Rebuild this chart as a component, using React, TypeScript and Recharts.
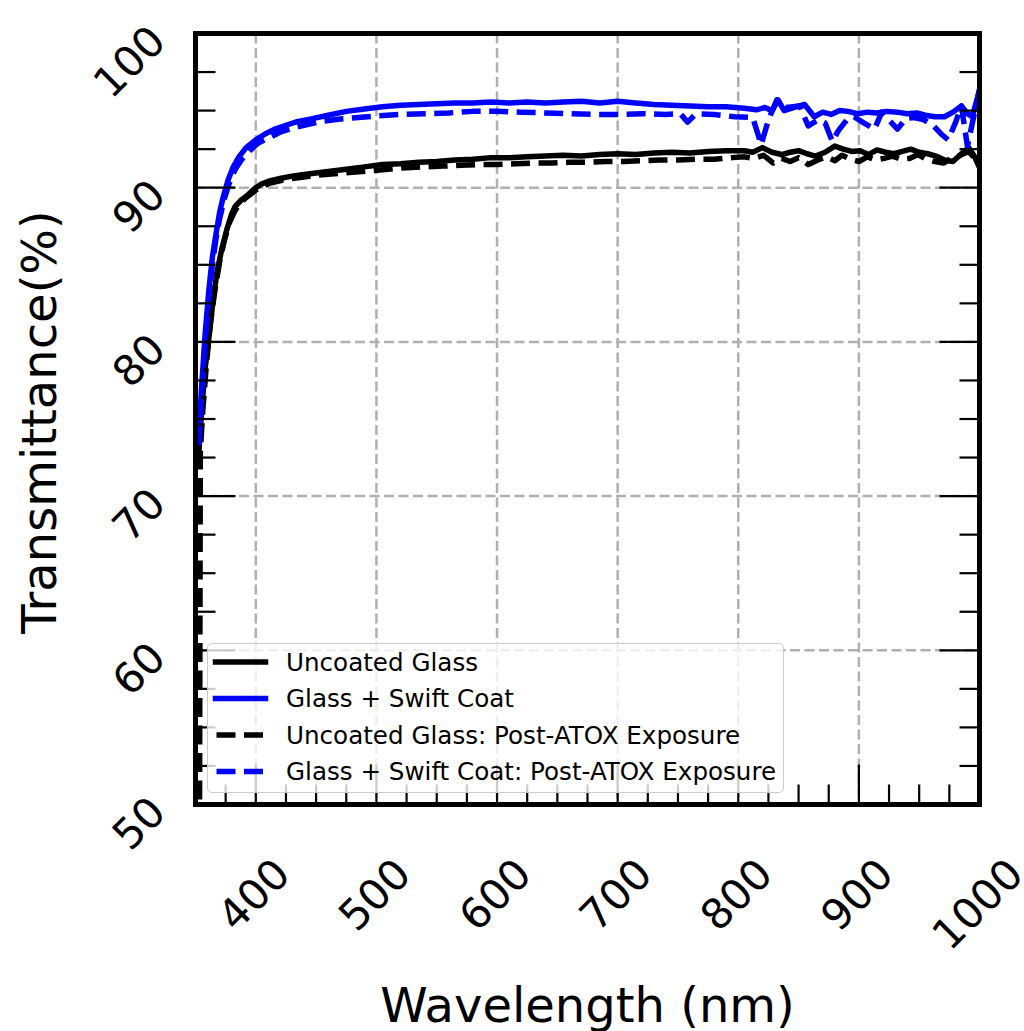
import React from 'react';
import { LineChart, Line, XAxis, YAxis, CartesianGrid, Legend, Label } from 'recharts';

// ---------- data (wavelength nm, transmittance %) ----------
const uncoatedGlass: [number, number][] = [
  [352.5, 72.5], [355, 75.5], [358, 78.3], [361, 80.2], [365, 83.0], [368, 84.6], [372, 86.1], [376, 87.3],
  [380, 88.3], [383, 88.8], [388, 89.2], [393, 89.5], [397, 89.8], [400, 90.0], [405, 90.25], [410, 90.4],
  [420, 90.6], [430, 90.75], [440, 90.85], [450, 90.95], [460, 91.05], [475, 91.2], [490, 91.35], [505, 91.5],
  [520, 91.55], [535, 91.65], [550, 91.7], [565, 91.8], [580, 91.85], [595, 91.95], [610, 91.95], [625, 92.0],
  [640, 92.05], [655, 92.1], [670, 92.05], [685, 92.15], [700, 92.2], [715, 92.15], [730, 92.25], [745, 92.3],
  [760, 92.25], [775, 92.35], [790, 92.4], [805, 92.4], [812, 92.3], [820, 92.6], [828, 92.3], [836, 92.15],
  [843, 92.3], [850, 92.4], [857, 92.2], [864, 92.05], [872, 92.3], [880, 92.7], [887, 92.5], [894, 92.35],
  [901, 92.4], [908, 92.15], [915, 92.45], [922, 92.3], [929, 92.2], [936, 92.35], [943, 92.5], [950, 92.3],
  [957, 92.2], [964, 92.05], [971, 91.8], [978, 91.7], [985, 92.2], [991, 92.6], [996, 92.0], [1000, 91.3],
];

const swiftCoat: [number, number][] = [
  [352.5, 73.5], [355, 77.0], [358, 80.5], [361, 83.3], [364, 85.5], [367, 87.0], [370, 88.4], [373, 89.4],
  [377, 90.5], [381, 91.3], [386, 92.0], [392, 92.6], [400, 93.1], [408, 93.5], [416, 93.8], [425, 94.05],
  [435, 94.3], [445, 94.45], [460, 94.7], [475, 94.95], [490, 95.1], [505, 95.25], [520, 95.35], [535, 95.4],
  [550, 95.45], [565, 95.5], [580, 95.5], [595, 95.55], [610, 95.5], [625, 95.55], [640, 95.5], [655, 95.55],
  [670, 95.6], [685, 95.5], [700, 95.6], [715, 95.5], [730, 95.4], [745, 95.35], [760, 95.3], [775, 95.25],
  [790, 95.25], [805, 95.15], [815, 95.05], [822, 95.2], [828, 95.0], [833, 95.7], [838, 95.0], [846, 95.2],
  [855, 95.4], [863, 94.6], [870, 94.9], [877, 94.75], [884, 95.0], [891, 94.95], [899, 94.8], [907, 94.9],
  [915, 94.85], [923, 94.95], [932, 94.9], [940, 94.8], [948, 94.85], [955, 94.7], [963, 94.6], [971, 94.6],
  [978, 94.9], [985, 95.3], [990, 94.8], [994, 94.6], [1000, 96.3],
];

const uncoatedPostAtox: [number, number][] = [
  [352.5, 20], [354, 72.8], [356, 75.5], [359, 78.5], [362, 81.0], [366, 83.3], [370, 85.2], [374, 86.6],
  [378, 87.7], [382, 88.4], [386, 88.9], [391, 89.3], [396, 89.6], [400, 89.85], [406, 90.1], [412, 90.3],
  [420, 90.45], [430, 90.6], [440, 90.7], [450, 90.8], [465, 90.9], [480, 91.0], [495, 91.1], [510, 91.2],
  [525, 91.3], [540, 91.35], [555, 91.4], [570, 91.45], [585, 91.5], [600, 91.5], [615, 91.55], [630, 91.6],
  [645, 91.6], [660, 91.65], [675, 91.65], [690, 91.7], [705, 91.7], [720, 91.75], [735, 91.8], [750, 91.8],
  [765, 91.85], [780, 91.85], [795, 91.95], [805, 92.0], [813, 91.9], [821, 92.1], [829, 91.6], [836, 91.9],
  [843, 91.7], [850, 91.95], [858, 91.5], [866, 91.8], [873, 92.0], [880, 91.75], [886, 92.1], [893, 91.85],
  [900, 91.7], [907, 92.0], [914, 91.8], [921, 91.9], [928, 92.05], [935, 91.85], [942, 91.9], [949, 92.15],
  [956, 91.85], [963, 91.7], [970, 91.6], [977, 91.9], [984, 92.1], [991, 92.35], [996, 91.9], [1000, 91.7],
];

const swiftPostAtox: [number, number][] = [
  [352.5, 73.3], [355, 76.5], [358, 80.0], [361, 82.8], [364, 85.0], [367, 86.7], [370, 88.0], [374, 89.3],
  [378, 90.3], [383, 91.2], [388, 91.8], [395, 92.4], [402, 92.9], [410, 93.2], [420, 93.6], [430, 93.85],
  [440, 94.05], [455, 94.3], [470, 94.45], [485, 94.55], [500, 94.65], [520, 94.75], [540, 94.8], [560, 94.85],
  [580, 94.95], [600, 94.95], [620, 94.9], [640, 94.85], [660, 94.8], [680, 94.75], [700, 94.75], [720, 94.8],
  [740, 94.75], [752, 94.8], [758, 94.25], [765, 94.8], [780, 94.75], [797, 94.6], [812, 94.55], [819, 92.8],
  [825, 94.4], [832, 95.7], [840, 95.2], [851, 95.3], [858, 94.0], [866, 94.4], [872, 94.2], [878, 93.0],
  [883, 93.7], [890, 94.4], [896, 94.6], [904, 94.2], [913, 93.8], [919, 94.9], [926, 94.3], [932, 93.8],
  [939, 94.5], [946, 94.55], [954, 94.4], [962, 94.0], [968, 93.5], [974, 93.1], [980, 94.2], [985, 95.3],
  [990, 92.7], [996, 94.9], [1000, 96.4],
];

// ---------- ticks ----------
const xMajorTicks = [400, 500, 600, 700, 800, 900, 1000];
const xMinorTicks = [350, 375, 425, 450, 475, 525, 550, 575, 625, 650, 675, 725, 750, 775, 825, 850, 875, 925, 950, 975];
const yMajorTicks = [50, 60, 70, 80, 90, 100];
const yMinorTicks = [52.5, 55, 57.5, 62.5, 65, 67.5, 72.5, 75, 77.5, 82.5, 85, 87.5, 92.5, 95, 97.5];
const xAllTicks = [...xMajorTicks, ...xMinorTicks].sort((a, b) => a - b);
const yAllTicks = [...yMajorTicks, ...yMinorTicks].sort((a, b) => a - b);

const seriesMeta = [
  { name: 'Uncoated Glass', color: '#000000', dashed: false, points: uncoatedGlass },
  { name: 'Glass + Swift Coat', color: '#0000ff', dashed: false, points: swiftCoat },
  { name: 'Uncoated Glass: Post-ATOX Exposure', color: '#000000', dashed: true, points: uncoatedPostAtox },
  { name: 'Glass + Swift Coat: Post-ATOX Exposure', color: '#0000ff', dashed: true, points: swiftPostAtox },
];

const toRows = (pts: [number, number][]) => pts.map(([wl, t]) => ({ wl, t }));

const FONT = "'DejaVu Sans', sans-serif";
const TICK_FONT = 42;
const MAJOR_LEN = 40;
const MINOR_LEN = 20;
const TICK_W = 2.2;
const LINE_W = 5.5;
const DASH = '19 8.5';

const labelBoxWidth = (s: string) => {
  const L = s.length * 0.636 * TICK_FONT;
  const cap = 0.729 * TICK_FONT;
  return 0.7071 * (L + cap);
};

const BottomTick = (props: any) => {
  const { x, y, payload } = props;
  const v = payload.value;
  const major = xMajorTicks.includes(v);
  const s = String(v);
  const cap = 0.729 * TICK_FONT;
  const ax = x - 2.5 + labelBoxWidth(s) / 2;
  const ay = y + 50.5 + 0.7071 * cap;
  return (
    <g>
      <line x1={x} y1={y} x2={x} y2={y - (major ? MAJOR_LEN : MINOR_LEN)} stroke="#000" strokeWidth={TICK_W} />
      {major && (
        <text x={ax} y={ay} textAnchor="end" fontSize={TICK_FONT} fontFamily={FONT} fill="#000"
          transform={`rotate(-45 ${ax} ${ay})`}>{s}</text>
      )}
    </g>
  );
};

const TopTick = (props: any) => {
  const { x, y, payload } = props;
  const major = xMajorTicks.includes(payload.value);
  return <line x1={x} y1={y} x2={x} y2={y + (major ? MAJOR_LEN : MINOR_LEN)} stroke="#000" strokeWidth={TICK_W} />;
};

const LeftTick = (props: any) => {
  const { x, y, payload } = props;
  const v = payload.value;
  const major = yMajorTicks.includes(v);
  const s = String(v);
  const ax = x - 27.5;
  const ay = y + 10;
  return (
    <g>
      <line x1={x} y1={y} x2={x + (major ? MAJOR_LEN : MINOR_LEN)} y2={y} stroke="#000" strokeWidth={TICK_W} />
      {major && (
        <text x={ax} y={ay} textAnchor="end" fontSize={TICK_FONT} fontFamily={FONT} fill="#000"
          transform={`rotate(-45 ${ax} ${ay})`}>{s}</text>
      )}
    </g>
  );
};

const RightTick = (props: any) => {
  const { x, y, payload } = props;
  const major = yMajorTicks.includes(payload.value);
  return <line x1={x} y1={y} x2={x - (major ? MAJOR_LEN : MINOR_LEN)} y2={y} stroke="#000" strokeWidth={TICK_W} />;
};

const XLabel = (props: any) => {
  const vb = props.viewBox || { x: 195.5, y: 804.5, width: 784, height: 226.5 };
  return (
    <text x={vb.x + vb.width / 2} y={vb.y + 217.5} textAnchor="middle" fontSize={48} fontFamily={FONT} fill="#000">
      Wavelength (nm)
    </text>
  );
};

const YLabel = (props: any) => {
  const vb = props.viewBox || { x: 0, y: 33.5, width: 195.5, height: 771 };
  const cx = vb.x + 55.5;
  const cy = vb.y + vb.height / 2 + 3;
  return (
    <text x={cx} y={cy} textAnchor="middle" fontSize={48} fontFamily={FONT} fill="#000"
      transform={`rotate(-90 ${cx} ${cy})`}>
      Transmittance(%)
    </text>
  );
};

const LegendContent = () => (
  <div style={{
    width: 577, height: 150, boxSizing: 'border-box', border: '1.6px solid #cccccc', borderRadius: 5,
    background: 'rgba(255,255,255,0.8)', position: 'relative',
  }}>
    <svg width={577} height={150} style={{ position: 'absolute', left: -1.6, top: -1.6 }}>
      {seriesMeta.map((s, i) => {
        const cy = 20 + i * 36.5;
        return (
          <g key={s.name}>
            <line x1={s.dashed ? 10.5 : 9.5} x2={s.dashed ? 57.5 : 59.5} y1={cy} y2={cy} stroke={s.color}
              strokeWidth={LINE_W} strokeDasharray={s.dashed ? DASH : undefined}
              strokeLinecap={s.dashed ? 'butt' : 'square'} />
            <text x={80} y={cy + 8.7} fontSize={24.6} fontFamily={FONT} fill="#000">{s.name}</text>
          </g>
        );
      })}
    </svg>
  </div>
);

const spine = { stroke: '#000', strokeWidth: 5, strokeLinecap: 'square' as const };

export default function App() {
  return (
    <div style={{ position: 'fixed', left: 0, top: 0, width: 1024, height: 1031, background: '#fff' }}>
      <LineChart width={1024} height={1031} margin={{ top: 0, right: 0, bottom: 0, left: 0 }}>
        <CartesianGrid xAxisId="x" yAxisId="y" verticalValues={[400, 500, 600, 700, 800, 900]}
          horizontalValues={[60, 70, 80, 90]} stroke="#b0b0b0" strokeWidth={2.5} strokeDasharray="10 4.5" />
        {seriesMeta.map((s) => (
          <Line key={s.name} xAxisId="x" yAxisId="y" data={toRows(s.points)} dataKey="t" name={s.name}
            type="linear" stroke={s.color} strokeWidth={LINE_W} strokeDasharray={s.dashed ? DASH : undefined}
            strokeLinejoin="round" dot={false} activeDot={false} isAnimationActive={false} />
        ))}
        <XAxis xAxisId="x" dataKey="wl" type="number" domain={[350, 1000]} allowDataOverflow ticks={xAllTicks}
          interval={0} height={226.5} tickSize={0} tickMargin={0} tickLine={false} axisLine={spine}
          tick={<BottomTick />}>
          <Label content={<XLabel />} />
        </XAxis>
        <XAxis xAxisId="top" orientation="top" type="number" domain={[350, 1000]} allowDataOverflow ticks={xAllTicks}
          interval={0} height={33.5} tickSize={0} tickMargin={0} tickLine={false} axisLine={spine}
          tick={<TopTick />} />
        <YAxis yAxisId="y" type="number" domain={[50, 100]} allowDataOverflow ticks={yAllTicks} interval={0}
          width={195.5} tickSize={0} tickMargin={0} tickLine={false} axisLine={spine} tick={<LeftTick />}>
          <Label content={<YLabel />} />
        </YAxis>
        <YAxis yAxisId="right" orientation="right" type="number" domain={[50, 100]} allowDataOverflow
          ticks={yAllTicks} interval={0} width={44.5} tickSize={0} tickMargin={0} tickLine={false}
          axisLine={spine} tick={<RightTick />} />
        <Legend layout="vertical" align="center" verticalAlign="middle"
          wrapperStyle={{ left: 207, top: 643, width: 577, height: 150 }} content={<LegendContent />} />
      </LineChart>
    </div>
  );
}
